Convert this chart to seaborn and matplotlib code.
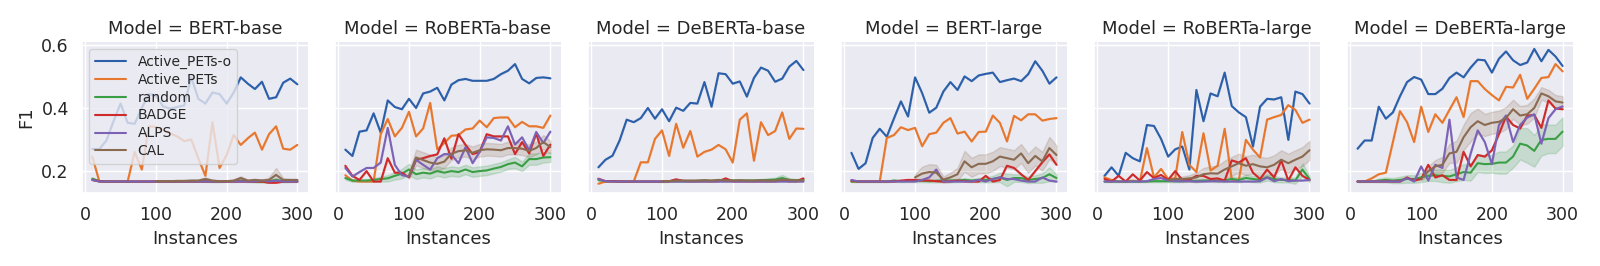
import pandas as pd
import seaborn as sns
import matplotlib.pyplot as plt
from matplotlib.lines import Line2D

models = ["BERT-base", "RoBERTa-base", "DeBERTa-base", "BERT-large", "RoBERTa-large", "DeBERTa-large"]
methods = ["Active_PETs-o", "Active_PETs", "random", "BADGE", "ALPS", "CAL"]
colors = ["#2b5fa9", "#e8772e", "#3a9e45", "#cf2a2a", "#7c62b5", "#8a6a50"]

instances = [10, 20, 30, 40, 50, 60, 70, 80, 90, 100, 110, 120, 130, 140, 150,
             160, 170, 180, 190, 200, 210, 220, 230, 240, 250, 260, 270, 280, 290, 300]

# mean F1 per model
active_pets_o = {
    "BERT-base": [0.27, 0.27, 0.297, 0.358, 0.414, 0.353, 0.35, 0.40, 0.444, 0.44, 0.405, 0.398, 0.403, 0.408, 0.497,
                  0.429, 0.414, 0.449, 0.444, 0.414, 0.449, 0.497, 0.477, 0.46, 0.483, 0.429, 0.434, 0.48, 0.493, 0.475],
    "RoBERTa-base": [0.268, 0.248, 0.325, 0.329, 0.383, 0.322, 0.424, 0.403, 0.396, 0.429, 0.40, 0.446, 0.452, 0.464, 0.424,
                     0.474, 0.488, 0.492, 0.486, 0.486, 0.486, 0.492, 0.507, 0.518, 0.539, 0.492, 0.478, 0.495, 0.497, 0.494],
    "DeBERTa-base": [0.212, 0.236, 0.249, 0.297, 0.363, 0.355, 0.368, 0.40, 0.366, 0.396, 0.358, 0.401, 0.391, 0.416, 0.414,
                     0.482, 0.404, 0.51, 0.507, 0.477, 0.484, 0.436, 0.495, 0.528, 0.518, 0.483, 0.493, 0.531, 0.549, 0.52],
    "BERT-large": [0.258, 0.207, 0.225, 0.305, 0.334, 0.309, 0.366, 0.421, 0.373, 0.497, 0.447, 0.385, 0.401, 0.452, 0.482,
                   0.457, 0.50, 0.485, 0.503, 0.508, 0.512, 0.482, 0.488, 0.493, 0.485, 0.507, 0.548, 0.518, 0.477, 0.497],
    "RoBERTa-large": [0.185, 0.212, 0.185, 0.258, 0.241, 0.231, 0.346, 0.343, 0.302, 0.246, 0.269, 0.278, 0.205, 0.457, 0.358,
                      0.446, 0.437, 0.512, 0.406, 0.386, 0.371, 0.278, 0.404, 0.429, 0.427, 0.434, 0.299, 0.452, 0.444, 0.414],
    "DeBERTa-large": [0.271, 0.297, 0.297, 0.404, 0.366, 0.386, 0.437, 0.482, 0.498, 0.49, 0.444, 0.444, 0.461, 0.495, 0.512,
                      0.497, 0.528, 0.553, 0.551, 0.512, 0.556, 0.579, 0.551, 0.536, 0.544, 0.587, 0.548, 0.584, 0.563, 0.533],
}

active_pets = {
    "BERT-base": [0.246, 0.167, 0.167, 0.167, 0.167, 0.167, 0.261, 0.205, 0.342, 0.34, 0.33, 0.32, 0.31, 0.295, 0.30,
                  0.24, 0.185, 0.355, 0.21, 0.251, 0.314, 0.283, 0.304, 0.322, 0.268, 0.317, 0.342, 0.271, 0.268, 0.283],
    "RoBERTa-base": [0.187, 0.17, 0.167, 0.167, 0.167, 0.317, 0.365, 0.31, 0.337, 0.388, 0.31, 0.335, 0.416, 0.269, 0.289,
                     0.312, 0.314, 0.332, 0.335, 0.36, 0.339, 0.368, 0.37, 0.37, 0.339, 0.356, 0.342, 0.342, 0.337, 0.376],
    "DeBERTa-base": [0.16, 0.167, 0.167, 0.167, 0.167, 0.167, 0.228, 0.228, 0.302, 0.329, 0.248, 0.35, 0.274, 0.327, 0.246,
                     0.261, 0.268, 0.283, 0.269, 0.227, 0.363, 0.383, 0.233, 0.355, 0.314, 0.327, 0.386, 0.302, 0.335, 0.334],
    "BERT-large": [0.167, 0.167, 0.167, 0.167, 0.167, 0.305, 0.314, 0.339, 0.33, 0.337, 0.279, 0.317, 0.322, 0.353, 0.368,
                   0.319, 0.325, 0.294, 0.324, 0.325, 0.376, 0.353, 0.294, 0.375, 0.361, 0.38, 0.38, 0.36, 0.365, 0.368],
    "RoBERTa-large": [0.18, 0.172, 0.167, 0.167, 0.17, 0.167, 0.273, 0.18, 0.207, 0.175, 0.177, 0.324, 0.22, 0.197, 0.32,
                      0.202, 0.217, 0.334, 0.172, 0.172, 0.299, 0.268, 0.243, 0.363, 0.371, 0.378, 0.409, 0.394, 0.353, 0.363],
    "DeBERTa-large": [0.167, 0.167, 0.177, 0.19, 0.195, 0.292, 0.39, 0.355, 0.292, 0.404, 0.324, 0.38, 0.353, 0.394, 0.434,
                      0.371, 0.485, 0.485, 0.46, 0.441, 0.424, 0.467, 0.465, 0.505, 0.429, 0.461, 0.495, 0.498, 0.539, 0.516],
}

random_sel = {
    "BERT-base": [0.176, 0.168, 0.167, 0.167, 0.167, 0.167, 0.167, 0.167, 0.167, 0.167, 0.167, 0.167, 0.167, 0.167, 0.168,
                  0.168, 0.168, 0.167, 0.167, 0.168, 0.168, 0.17, 0.168, 0.167, 0.166, 0.168, 0.172, 0.168, 0.168, 0.168],
    "RoBERTa-base": [0.178, 0.17, 0.17, 0.17, 0.172, 0.175, 0.177, 0.185, 0.192, 0.205, 0.19, 0.195, 0.192, 0.20, 0.195,
                     0.20, 0.197, 0.205, 0.197, 0.20, 0.202, 0.208, 0.213, 0.222, 0.227, 0.215, 0.238, 0.238, 0.243, 0.244],
    "DeBERTa-base": [0.172, 0.168, 0.168, 0.167, 0.167, 0.167, 0.167, 0.167, 0.167, 0.167, 0.168, 0.168, 0.168, 0.168, 0.169,
                     0.17, 0.169, 0.17, 0.169, 0.17, 0.17, 0.17, 0.17, 0.171, 0.172, 0.173, 0.178, 0.172, 0.171, 0.172],
    "BERT-large": [0.167, 0.167, 0.167, 0.167, 0.167, 0.167, 0.17, 0.168, 0.169, 0.17, 0.17, 0.168, 0.169, 0.17, 0.17,
                   0.17, 0.172, 0.17, 0.172, 0.172, 0.175, 0.18, 0.172, 0.178, 0.178, 0.172, 0.175, 0.178, 0.19, 0.178],
    "RoBERTa-large": [0.167, 0.167, 0.167, 0.167, 0.167, 0.167, 0.167, 0.168, 0.168, 0.168, 0.168, 0.168, 0.169, 0.169, 0.17,
                      0.17, 0.17, 0.17, 0.175, 0.172, 0.178, 0.175, 0.172, 0.18, 0.175, 0.172, 0.172, 0.17, 0.205, 0.175],
    "DeBERTa-large": [0.167, 0.167, 0.167, 0.17, 0.172, 0.17, 0.172, 0.175, 0.175, 0.18, 0.185, 0.187, 0.185, 0.183, 0.19,
                      0.197, 0.195, 0.225, 0.222, 0.223, 0.227, 0.227, 0.246, 0.287, 0.281, 0.264, 0.299, 0.302, 0.302, 0.325],
}

badge = {
    "BERT-base": [0.172, 0.168, 0.167, 0.167, 0.167, 0.167, 0.167, 0.167, 0.167, 0.167, 0.167, 0.167, 0.167, 0.167, 0.167,
                  0.167, 0.167, 0.167, 0.167, 0.167, 0.167, 0.167, 0.167, 0.166, 0.167, 0.163, 0.163, 0.167, 0.167, 0.167],
    "RoBERTa-base": [0.217, 0.185, 0.172, 0.20, 0.167, 0.167, 0.241, 0.195, 0.195, 0.18, 0.236, 0.241, 0.248, 0.253, 0.304,
                     0.239, 0.317, 0.283, 0.254, 0.261, 0.317, 0.31, 0.31, 0.31, 0.254, 0.292, 0.256, 0.319, 0.248, 0.284],
    "DeBERTa-base": [0.176, 0.168, 0.168, 0.167, 0.167, 0.167, 0.167, 0.167, 0.167, 0.167, 0.168, 0.174, 0.169, 0.168, 0.168,
                     0.168, 0.168, 0.168, 0.177, 0.168, 0.168, 0.168, 0.168, 0.168, 0.168, 0.168, 0.17, 0.168, 0.168, 0.177],
    "BERT-large": [0.17, 0.167, 0.167, 0.167, 0.167, 0.167, 0.167, 0.17, 0.172, 0.172, 0.17, 0.17, 0.168, 0.167, 0.168,
                   0.17, 0.168, 0.167, 0.167, 0.185, 0.167, 0.172, 0.217, 0.21, 0.19, 0.172, 0.2, 0.228, 0.253, 0.22],
    "RoBERTa-large": [0.175, 0.167, 0.185, 0.167, 0.19, 0.17, 0.197, 0.178, 0.188, 0.172, 0.20, 0.172, 0.172, 0.185, 0.185,
                      0.175, 0.177, 0.17, 0.234, 0.227, 0.241, 0.195, 0.175, 0.205, 0.18, 0.234, 0.17, 0.212, 0.185, 0.172],
    "DeBERTa-large": [0.167, 0.167, 0.167, 0.167, 0.167, 0.167, 0.167, 0.18, 0.17, 0.175, 0.22, 0.18, 0.187, 0.172, 0.172,
                      0.261, 0.215, 0.251, 0.246, 0.266, 0.317, 0.373, 0.346, 0.335, 0.376, 0.378, 0.337, 0.424, 0.398, 0.396],
}

alps = {
    "BERT-base": [0.172, 0.167, 0.167, 0.167, 0.167, 0.167, 0.167, 0.167, 0.167, 0.167, 0.167, 0.167, 0.167, 0.167, 0.167,
                  0.167, 0.167, 0.167, 0.167, 0.167, 0.167, 0.167, 0.167, 0.167, 0.17, 0.167, 0.17, 0.167, 0.167, 0.167],
    "RoBERTa-base": [0.21, 0.183, 0.197, 0.21, 0.21, 0.227, 0.337, 0.22, 0.187, 0.183, 0.236, 0.22, 0.205, 0.241, 0.254,
                     0.253, 0.225, 0.276, 0.225, 0.261, 0.307, 0.305, 0.297, 0.342, 0.284, 0.307, 0.266, 0.324, 0.289, 0.325],
    "DeBERTa-base": [0.175, 0.168, 0.167, 0.167, 0.167, 0.167, 0.167, 0.167, 0.167, 0.167, 0.167, 0.167, 0.167, 0.167, 0.167,
                     0.167, 0.167, 0.167, 0.167, 0.167, 0.167, 0.167, 0.167, 0.167, 0.167, 0.167, 0.167, 0.167, 0.167, 0.167],
    "BERT-large": [0.172, 0.167, 0.167, 0.167, 0.167, 0.167, 0.167, 0.167, 0.167, 0.167, 0.172, 0.18, 0.205, 0.167, 0.167,
                   0.167, 0.167, 0.167, 0.172, 0.167, 0.175, 0.18, 0.175, 0.175, 0.17, 0.167, 0.167, 0.18, 0.17, 0.167],
    "RoBERTa-large": [0.167, 0.167, 0.167, 0.167, 0.167, 0.167, 0.168, 0.175, 0.178, 0.17, 0.168, 0.168, 0.168, 0.167, 0.167,
                      0.168, 0.168, 0.167, 0.167, 0.167, 0.167, 0.167, 0.168, 0.18, 0.168, 0.175, 0.168, 0.17, 0.17, 0.172],
    "DeBERTa-large": [0.167, 0.167, 0.167, 0.167, 0.167, 0.167, 0.167, 0.178, 0.167, 0.215, 0.17, 0.22, 0.21, 0.363, 0.18,
                      0.172, 0.256, 0.329, 0.292, 0.222, 0.346, 0.376, 0.292, 0.346, 0.37, 0.38, 0.287, 0.368, 0.396, 0.405],
}

# CAL only starts at 100 instances
cal = {
    "BERT-base": [None] * 9 + [0.168, 0.168, 0.168, 0.169, 0.169, 0.17, 0.17, 0.175, 0.17, 0.168, 0.168,
                               0.17, 0.178, 0.17, 0.172, 0.17, 0.172, 0.188, 0.172, 0.172, 0.172],
    "RoBERTa-base": [None] * 9 + [0.185, 0.243, 0.235, 0.227, 0.223, 0.23, 0.255, 0.263, 0.266, 0.258, 0.266,
                                  0.269, 0.268, 0.266, 0.273, 0.273, 0.271, 0.264, 0.273, 0.292, 0.276],
    "DeBERTa-base": [None] * 9 + [0.168, 0.168, 0.17, 0.17, 0.17, 0.17, 0.171, 0.17, 0.172, 0.171, 0.17,
                                  0.171, 0.17, 0.17, 0.171, 0.17, 0.17, 0.173, 0.172, 0.17, 0.172],
    "BERT-large": [None] * 9 + [0.18, 0.192, 0.197, 0.195, 0.173, 0.18, 0.19, 0.231, 0.212, 0.223, 0.223,
                                0.231, 0.246, 0.241, 0.236, 0.256, 0.225, 0.248, 0.231, 0.273, 0.251],
    "RoBERTa-large": [None] * 9 + [0.172, 0.175, 0.175, 0.177, 0.18, 0.19, 0.193, 0.192, 0.205, 0.215, 0.225,
                                   0.217, 0.222, 0.215, 0.212, 0.22, 0.236, 0.225, 0.236, 0.246, 0.266],
    "DeBERTa-large": [None] * 9 + [0.175, 0.20, 0.215, 0.22, 0.256, 0.261, 0.307, 0.339, 0.358, 0.346, 0.353,
                                   0.356, 0.368, 0.396, 0.376, 0.38, 0.40, 0.446, 0.437, 0.421, 0.417],
}

# half-width of the shaded band (spread over seeds)
random_band = {
    "BERT-base": [0.004, 0.002, 0.001, 0.001, 0.001, 0.001, 0.001, 0.001, 0.001, 0.001, 0.001, 0.001, 0.001, 0.001, 0.002,
                  0.002, 0.002, 0.002, 0.002, 0.002, 0.003, 0.004, 0.003, 0.003, 0.003, 0.004, 0.006, 0.004, 0.003, 0.003],
    "RoBERTa-base": [0.005, 0.004, 0.003, 0.004, 0.005, 0.008, 0.01, 0.012, 0.015, 0.018, 0.015, 0.015, 0.015, 0.015, 0.015,
                     0.015, 0.015, 0.015, 0.015, 0.015, 0.015, 0.015, 0.015, 0.015, 0.018, 0.015, 0.018, 0.018, 0.016, 0.015],
    "DeBERTa-base": [0.004, 0.002, 0.002, 0.001, 0.001, 0.001, 0.001, 0.001, 0.001, 0.002, 0.002, 0.002, 0.002, 0.002, 0.003,
                     0.003, 0.003, 0.003, 0.003, 0.003, 0.003, 0.003, 0.003, 0.004, 0.005, 0.006, 0.01, 0.005, 0.004, 0.004],
    "BERT-large": [0.002, 0.002, 0.002, 0.002, 0.002, 0.002, 0.004, 0.003, 0.004, 0.005, 0.005, 0.004, 0.005, 0.005, 0.005,
                   0.005, 0.006, 0.005, 0.007, 0.008, 0.01, 0.015, 0.02, 0.012, 0.012, 0.01, 0.012, 0.015, 0.022, 0.012],
    "RoBERTa-large": [0.002, 0.002, 0.002, 0.002, 0.002, 0.002, 0.002, 0.003, 0.003, 0.003, 0.003, 0.003, 0.003, 0.004, 0.004,
                      0.004, 0.005, 0.005, 0.008, 0.008, 0.01, 0.01, 0.008, 0.01, 0.01, 0.008, 0.008, 0.01, 0.02, 0.01],
    "DeBERTa-large": [0.002, 0.002, 0.002, 0.006, 0.008, 0.008, 0.01, 0.012, 0.012, 0.015, 0.016, 0.018, 0.02, 0.02, 0.022,
                      0.025, 0.025, 0.028, 0.028, 0.028, 0.035, 0.035, 0.035, 0.05, 0.055, 0.05, 0.05, 0.045, 0.045, 0.045],
}

cal_band = {
    "BERT-base": [None] * 9 + [0.001, 0.001, 0.001, 0.002, 0.002, 0.003, 0.003, 0.005, 0.003, 0.002, 0.002,
                               0.003, 0.006, 0.003, 0.004, 0.003, 0.008, 0.022, 0.006, 0.003, 0.003],
    "RoBERTa-base": [None] * 9 + [0.01, 0.025, 0.025, 0.025, 0.022, 0.02, 0.02, 0.02, 0.02, 0.02, 0.02,
                                  0.02, 0.02, 0.02, 0.02, 0.02, 0.02, 0.02, 0.02, 0.022, 0.02],
    "DeBERTa-base": [None] * 9 + [0.002, 0.002, 0.003, 0.003, 0.003, 0.003, 0.003, 0.003, 0.003, 0.003, 0.003,
                                  0.003, 0.003, 0.003, 0.003, 0.003, 0.003, 0.004, 0.004, 0.003, 0.003],
    "BERT-large": [None] * 9 + [0.01, 0.022, 0.025, 0.025, 0.01, 0.015, 0.02, 0.033, 0.03, 0.03, 0.03,
                                0.03, 0.03, 0.03, 0.03, 0.03, 0.03, 0.03, 0.03, 0.035, 0.03],
    "RoBERTa-large": [None] * 9 + [0.004, 0.006, 0.008, 0.01, 0.015, 0.02, 0.022, 0.025, 0.028, 0.03, 0.03,
                                   0.03, 0.03, 0.03, 0.03, 0.03, 0.03, 0.03, 0.03, 0.03, 0.03],
    "DeBERTa-large": [None] * 9 + [0.005, 0.015, 0.02, 0.025, 0.03, 0.035, 0.04, 0.045, 0.04, 0.035, 0.035,
                                   0.035, 0.035, 0.03, 0.03, 0.03, 0.03, 0.02, 0.02, 0.02, 0.02],
}

series = {
    "Active_PETs-o": (active_pets_o, None),
    "Active_PETs": (active_pets, None),
    "random": (random_sel, random_band),
    "BADGE": (badge, None),
    "ALPS": (alps, None),
    "CAL": (cal, cal_band),
}

# two rows per point (lower/upper of the band) so seaborn draws the mean and the spread
rows = []
for model in models:
    for method in methods:
        vals, band = series[method]
        for i, x in enumerate(instances):
            v = vals[model][i]
            if v is None:
                continue
            w = band[model][i] if band else 0.0
            rows.append({"Model": model, "Instances": x, "Method": method, "F1": v - w})
            rows.append({"Model": model, "Instances": x, "Method": method, "F1": v + w})
df = pd.DataFrame(rows)

sns.set_theme(style="darkgrid", rc={
    "axes.titlesize": 14, "axes.labelsize": 13,
    "xtick.labelsize": 12.5, "ytick.labelsize": 12.5,
})
g = sns.relplot(
    data=df, x="Instances", y="F1", hue="Method", hue_order=methods,
    col="Model", col_order=models, kind="line", palette=colors,
    errorbar=("pi", 100), legend=False, height=2.5, aspect=1.0,
)
g.set_titles("{col_var} = {col_name}")
g.set(xticks=[0, 100, 200, 300], yticks=[0.2, 0.4, 0.6])
g.set_axis_labels("Instances", "F1")

handles = [Line2D([], [], color=c, lw=1.5, label=m) for m, c in zip(methods, colors)]
g.axes[0, 0].legend(handles=handles, loc="upper left", fontsize=10,
                    labelspacing=0.28, handlelength=2.3)

g.figure.set_size_inches(16, 2.66)
g.figure.subplots_adjust(left=0.05125, right=0.983, top=0.842, bottom=0.274, wspace=0.122)
g.figure.savefig("out.png", dpi=100)
